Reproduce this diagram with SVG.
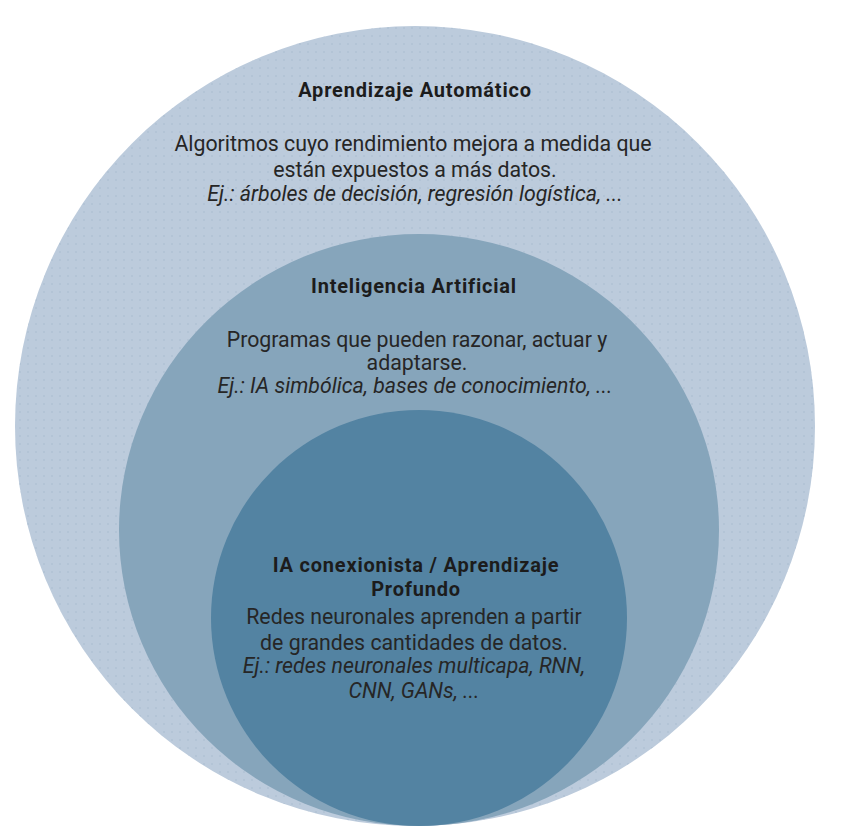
<svg xmlns="http://www.w3.org/2000/svg" width="847" height="839" viewBox="0 0 847 839">
  <defs>
    <pattern id="dots" width="8" height="8" patternUnits="userSpaceOnUse">
      <circle cx="4" cy="4" r="0.7" fill="#a3b5c9"/>
    </pattern>
  </defs>
  <style>
    text { font-family: Roboto, "Liberation Sans", sans-serif; text-anchor: middle; fill: #262626; }
    .title { font-weight: bold; font-size: 20px; letter-spacing: 0.8px; fill: #1c1c1c; }
    .body { font-size: 21.3px; }
    .ex { font-size: 21.3px; font-style: italic; }
  </style>
  <rect width="847" height="839" fill="#ffffff"/>
  <g id="aprendizaje-automatico">
    <circle cx="415" cy="426" r="400" fill="#bccbdc"/>
    <circle cx="415" cy="426" r="400" fill="url(#dots)"/>
    <text class="title" x="415" y="97">Aprendizaje Automático</text>
    <text class="body" x="413" y="151">Algoritmos cuyo rendimiento mejora a medida que</text>
    <text class="body" x="415" y="177">están expuestos a más datos.</text>
    <text class="ex" x="415" y="201">Ej.: árboles de decisión, regresión logística, ...</text>
  </g>
  <g id="inteligencia-artificial">
    <ellipse cx="419" cy="530" rx="300" ry="296" fill="#86a5bb"/>
    <text class="title" x="414" y="293">Inteligencia Artificial</text>
    <text class="body" x="417" y="347">Programas que pueden razonar, actuar y</text>
    <text class="body" x="417" y="370">adaptarse.</text>
    <text class="ex" x="415" y="393">Ej.: IA simbólica, bases de conocimiento, ...</text>
  </g>
  <g id="ia-conexionista">
    <circle cx="419" cy="618" r="208" fill="#5383a2"/>
    <text class="title" x="416" y="572">IA conexionista / Aprendizaje</text>
    <text class="title" x="416" y="596">Profundo</text>
    <text class="body" x="414" y="624">Redes neuronales aprenden a partir</text>
    <text class="body" x="414" y="650">de grandes cantidades de datos.</text>
    <text class="ex" x="414" y="673">Ej.: redes neuronales multicapa, RNN,</text>
    <text class="ex" x="414" y="698">CNN, GANs, ...</text>
  </g>
  <g id="connectors"/>
</svg>
